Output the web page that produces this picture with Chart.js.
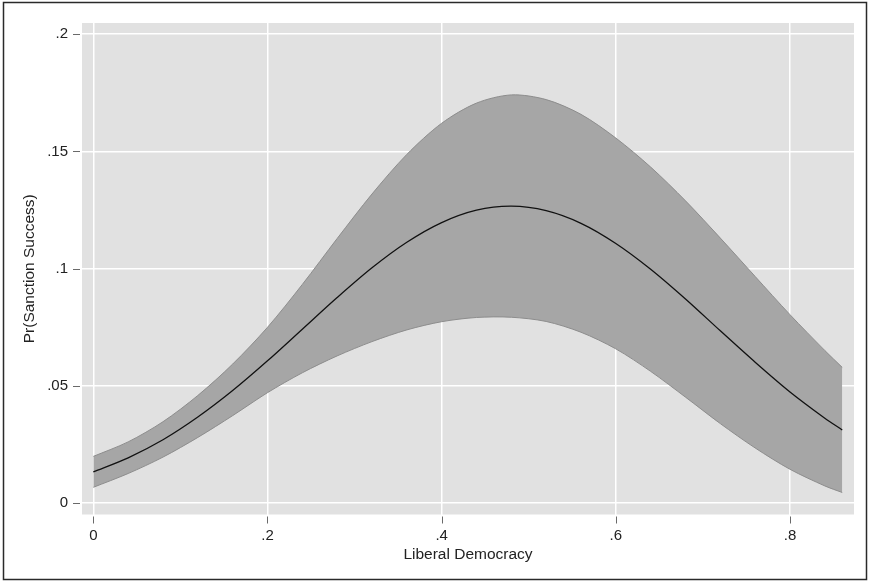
<!DOCTYPE html>
<html>
<head>
<meta charset="utf-8">
<script src="https://cdn.jsdelivr.net/npm/chart.js@4/dist/chart.umd.min.js"></script>
<style>
  html, body { margin: 0; padding: 0; background: #ffffff; }
  canvas { display: block; }
</style>
</head>
<body>
<canvas id="marginsChart" width="870" height="581"></canvas>
<script>
// Liberal Democracy values along the x axis
var democracy = [0, 0.04, 0.08, 0.12, 0.16, 0.20, 0.24, 0.28, 0.32, 0.36, 0.40, 0.44,
                 0.48, 0.52, 0.56, 0.60, 0.64, 0.68, 0.72, 0.76, 0.80, 0.84, 0.86];

// predicted Pr(Sanction Success)
var predicted = [0.0132, 0.0192, 0.0269, 0.0366, 0.0479, 0.0606, 0.0741, 0.0876, 0.1003, 0.1112, 0.1196, 0.1249,
                 0.1266, 0.1247, 0.1193, 0.1107, 0.0997, 0.0870, 0.0734, 0.0600, 0.0473, 0.0361, 0.0311];

// 95% confidence band
var upperCI = [0.0198, 0.0260, 0.0346, 0.0458, 0.0592, 0.0749, 0.0932, 0.1128, 0.1318, 0.1487, 0.1620, 0.1706,
               0.1741, 0.1721, 0.1658, 0.1557, 0.1433, 0.1289, 0.1130, 0.0966, 0.0803, 0.0650, 0.0578];
var lowerCI = [0.0066, 0.0125, 0.0195, 0.0279, 0.0372, 0.0470, 0.0555, 0.0627, 0.0688, 0.0738, 0.0773, 0.0791,
               0.0792, 0.0774, 0.0728, 0.0657, 0.0561, 0.0451, 0.0338, 0.0234, 0.0143, 0.0072, 0.0044];

var xTicks = [0, 0.2, 0.4, 0.6, 0.8];
var yTicks = [0, 0.05, 0.1, 0.15, 0.2];

function toPoints(ys) {
    return democracy.map(function(x, i) { return {x: x, y: ys[i]}; });
}

// stata style: .2 instead of 0.2
function stataLabel(v) {
    return String(v).replace(/^0\./, '.');
}

var plotBackground = {
    id: 'plotBackground',
    beforeDraw: function(chart) {
        var ctx = chart.ctx, a = chart.chartArea;
        ctx.save();
        ctx.fillStyle = '#ffffff';
        ctx.fillRect(0, 0, chart.width, chart.height);
        ctx.fillStyle = '#e1e1e1';
        ctx.fillRect(a.left, a.top, a.right - a.left, a.bottom - a.top);
        ctx.restore();
    },
    afterDraw: function(chart) {
        var ctx = chart.ctx, a = chart.chartArea;
        var xs = chart.scales.x, ys = chart.scales.y;
        ctx.save();
        // tick marks sit a little away from the plot region
        ctx.strokeStyle = '#6a6a6a';
        ctx.lineWidth = 1;
        ctx.beginPath();
        ys.ticks.forEach(function(t) {
            var py = Math.round(ys.getPixelForValue(t.value)) + 0.5;
            ctx.moveTo(a.left - 9, py);
            ctx.lineTo(a.left - 2, py);
        });
        xs.ticks.forEach(function(t) {
            var px = Math.round(xs.getPixelForValue(t.value)) + 0.5;
            ctx.moveTo(px, a.bottom + 2);
            ctx.lineTo(px, a.bottom + 9);
        });
        ctx.stroke();
        // outer frame
        ctx.strokeStyle = '#2a2a2a';
        ctx.lineWidth = 1.5;
        ctx.strokeRect(3.5, 2.5, 863, 577);
        ctx.restore();
    }
};

var tickFont = {family: '"Liberation Sans", Arial, sans-serif', size: 15};
var titleFont = {family: '"Liberation Sans", Arial, sans-serif', size: 15.5};

var ctx = document.getElementById('marginsChart');
var chart = new Chart(ctx, {
    type: 'line',
    data: {
        datasets: [
            {
                label: 'Pr(Sanction Success)',
                data: toPoints(predicted),
                borderColor: '#111111',
                borderWidth: 1.3,
                pointRadius: 0,
                fill: false,
                tension: 0.3
            },
            {
                label: 'upper',
                data: toPoints(upperCI),
                borderColor: '#8d8d8d',
                borderWidth: 1,
                backgroundColor: '#a6a6a6',
                pointRadius: 0,
                fill: '+1',
                tension: 0.3
            },
            {
                label: 'lower',
                data: toPoints(lowerCI),
                borderColor: '#8d8d8d',
                borderWidth: 1,
                pointRadius: 0,
                fill: false,
                tension: 0.3
            }
        ]
    },
    options: {
        responsive: false,
        animation: false,
        devicePixelRatio: 1,
        layout: {padding: {left: 0, right: 16, top: 23, bottom: 0}},
        plugins: {
            legend: {display: false},
            tooltip: {enabled: false},
            filler: {drawTime: 'beforeDatasetsDraw'}
        },
        scales: {
            x: {
                type: 'linear',
                min: -0.013,
                max: 0.8735,
                afterBuildTicks: function(scale) {
                    scale.ticks = xTicks.map(function(v) { return {value: v}; });
                },
                afterFit: function(scale) { scale.height = 66.5; },
                grid: {color: '#ffffff', lineWidth: 1.5, drawTicks: false},
                border: {display: false},
                ticks: {
                    padding: 12,
                    color: '#222222',
                    font: tickFont,
                    maxRotation: 0,
                    callback: function(v) { return stataLabel(v); }
                },
                title: {
                    display: true,
                    text: 'Liberal Democracy',
                    color: '#222222',
                    font: titleFont,
                    padding: {top: 0, bottom: 17}
                }
            },
            y: {
                type: 'linear',
                min: -0.005,
                max: 0.2048,
                afterBuildTicks: function(scale) {
                    scale.ticks = yTicks.map(function(v) { return {value: v}; });
                },
                afterFit: function(scale) { scale.width = 82; },
                grid: {color: '#ffffff', lineWidth: 1.5, drawTicks: false},
                border: {display: false},
                ticks: {
                    padding: 14,
                    color: '#222222',
                    font: tickFont,
                    callback: function(v) { return stataLabel(v); }
                },
                title: {
                    display: true,
                    text: 'Pr(Sanction Success)',
                    color: '#222222',
                    font: titleFont,
                    padding: {top: 20, bottom: 0}
                }
            }
        }
    },
    plugins: [plotBackground]
});
</script>
</body>
</html>
